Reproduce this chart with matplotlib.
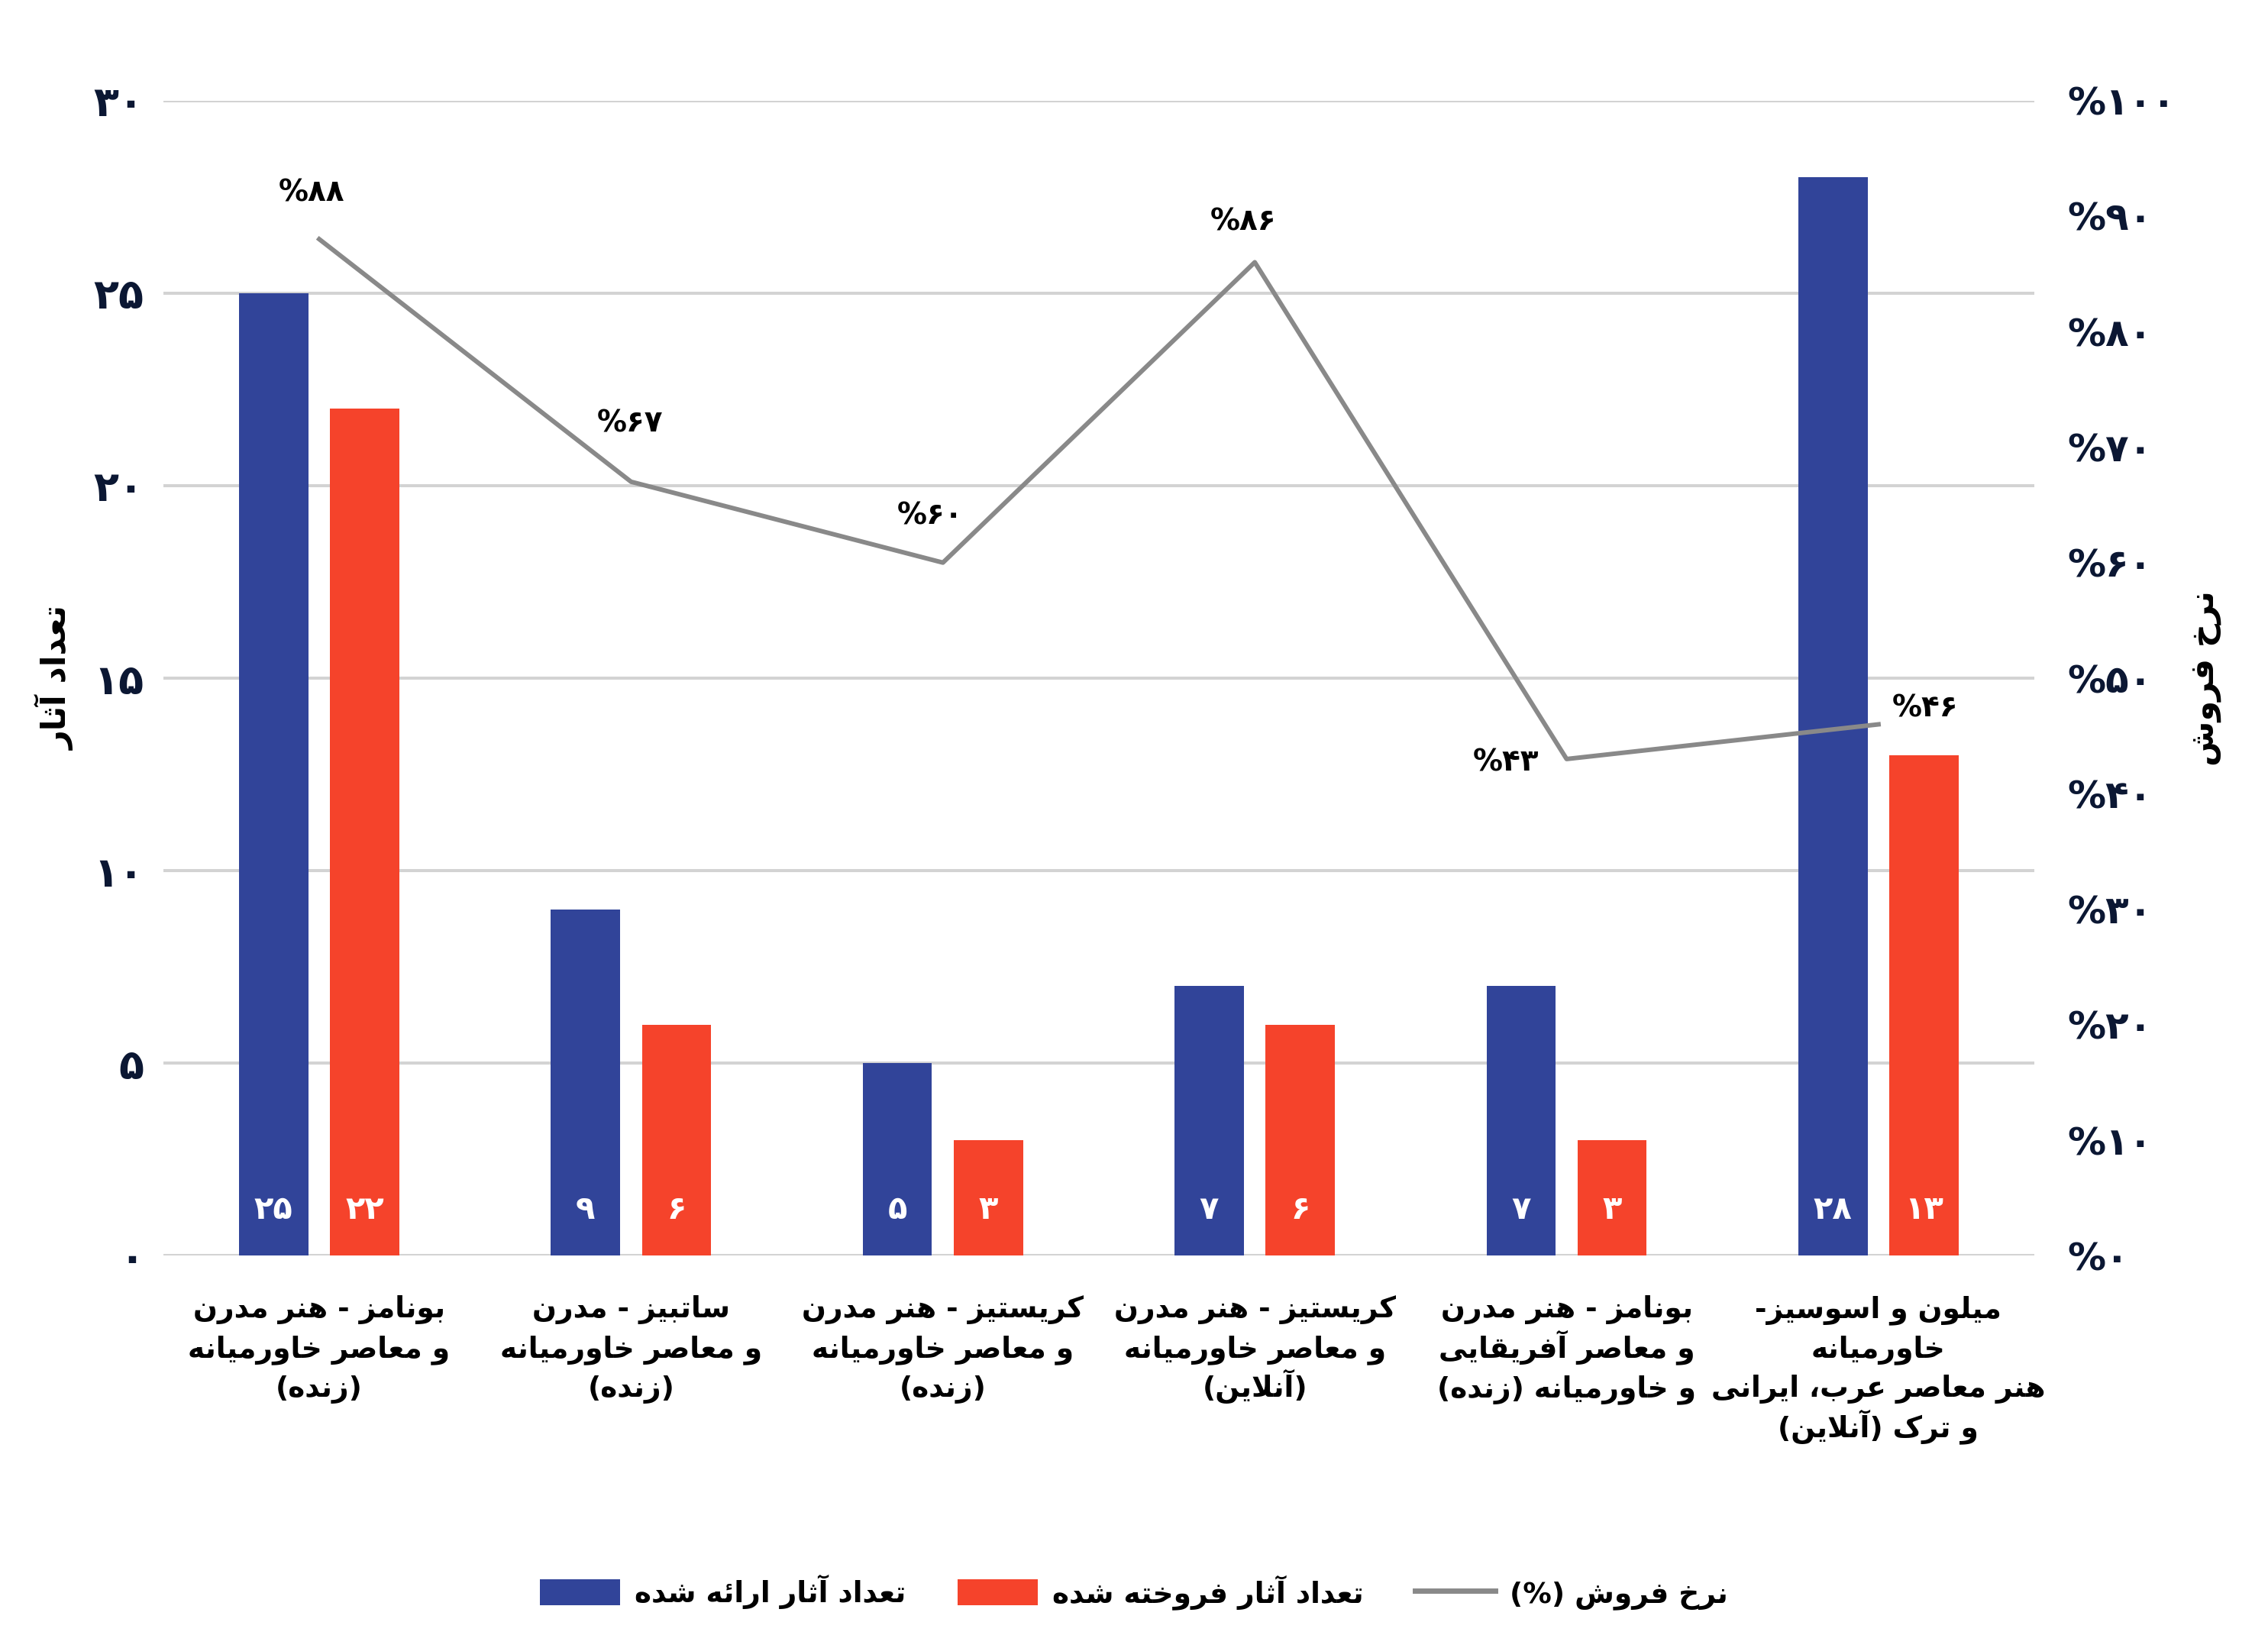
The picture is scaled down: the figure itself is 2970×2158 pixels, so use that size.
import numpy as np
import matplotlib
matplotlib.use("Agg")
import matplotlib.pyplot as plt
from matplotlib.patches import Patch
from matplotlib.lines import Line2D

# ---------------- data ----------------
categories = [
    "بونامز - هنر مدرن\nو معاصر خاورمیانه\n(زنده)",
    "ساتبیز - مدرن\nو معاصر خاورمیانه\n(زنده)",
    "کریستیز - هنر مدرن\nو معاصر خاورمیانه\n(زنده)",
    "کریستیز - هنر مدرن\nو معاصر خاورمیانه\n(آنلاین)",
    "بونامز - هنر مدرن\nو معاصر آفریقایی\nو خاورمیانه (زنده)",
    "میلون و اسوسیز-\nخاورمیانه\nهنر معاصر عرب، ایرانی\nو ترک (آنلاین)",
]
offered = [25, 9, 5, 7, 7, 28]
sold = [22, 6, 3, 6, 3, 13]
sale_rate = [88, 67, 60, 86, 43, 46]
left_ticks = [0, 5, 10, 15, 20, 25, 30]
right_ticks = [0, 10, 20, 30, 40, 50, 60, 70, 80, 90, 100]
legend_labels = ["تعداد آثار ارائه شده", "تعداد آثار فروخته شده", "نرخ فروش (%)"]
ylabel_left = "تعداد آثار"
ylabel_right = "نرخ فروش"

# ---------------- minimal Persian shaping ----------------
FORMS = {
    '\u0622': ('\uFE81', '\uFE82', None, None),
    '\u0626': ('\uFE89', '\uFE8A', '\uFE8B', '\uFE8C'),
    '\u0627': ('\uFE8D', '\uFE8E', None, None),
    '\u0628': ('\uFE8F', '\uFE90', '\uFE91', '\uFE92'),
    '\u062A': ('\uFE95', '\uFE96', '\uFE97', '\uFE98'),
    '\u062B': ('\uFE99', '\uFE9A', '\uFE9B', '\uFE9C'),
    '\u062E': ('\uFEA5', '\uFEA6', '\uFEA7', '\uFEA8'),
    '\u062F': ('\uFEA9', '\uFEAA', None, None),
    '\u0631': ('\uFEAD', '\uFEAE', None, None),
    '\u0632': ('\uFEAF', '\uFEB0', None, None),
    '\u0633': ('\uFEB1', '\uFEB2', '\uFEB3', '\uFEB4'),
    '\u0634': ('\uFEB5', '\uFEB6', '\uFEB7', '\uFEB8'),
    '\u0635': ('\uFEB9', '\uFEBA', '\uFEBB', '\uFEBC'),
    '\u0639': ('\uFEC9', '\uFECA', '\uFECB', '\uFECC'),
    '\u0641': ('\uFED1', '\uFED2', '\uFED3', '\uFED4'),
    '\u0642': ('\uFED5', '\uFED6', '\uFED7', '\uFED8'),
    '\u0644': ('\uFEDD', '\uFEDE', '\uFEDF', '\uFEE0'),
    '\u0645': ('\uFEE1', '\uFEE2', '\uFEE3', '\uFEE4'),
    '\u0646': ('\uFEE5', '\uFEE6', '\uFEE7', '\uFEE8'),
    '\u0647': ('\uFEE9', '\uFEEA', '\uFEEB', '\uFEEC'),
    '\u0648': ('\uFEED', '\uFEEE', None, None),
    '\u06A9': ('\uFB8E', '\uFB8F', '\uFB90', '\uFB91'),
    '\u06CC': ('\uFBFC', '\uFBFD', '\uFBFE', '\uFBFF'),
}
LAM_ALEF = {'\u0627': ('\uFEFB', '\uFEFC'), '\u0622': ('\uFEF5', '\uFEF6')}
MIRROR = {'(': ')', ')': '('}


def shape_line(s):
    out = []
    n = len(s)
    i = 0
    prev_join = False
    while i < n:
        c = s[i]
        if c not in FORMS:
            out.append(c)
            prev_join = False
            i += 1
            continue
        if c == '\u0644' and i + 1 < n and s[i + 1] in LAM_ALEF:
            iso, fin = LAM_ALEF[s[i + 1]]
            out.append(fin if prev_join else iso)
            prev_join = False
            i += 2
            continue
        f = FORMS[c]
        nxt = s[i + 1] if i + 1 < n else None
        can_next = f[2] is not None and nxt in FORMS
        if prev_join and can_next:
            g = f[3]
        elif prev_join:
            g = f[1]
        elif can_next:
            g = f[2]
        else:
            g = f[0]
        out.append(g)
        prev_join = can_next
        i += 1
    vis = ''.join(MIRROR.get(ch, ch) for ch in reversed(out))
    return vis


def fa(s):
    return '\n'.join(shape_line(l) for l in s.split('\n'))


PD = str.maketrans('0123456789', '۰۱۲۳۴۵۶۷۸۹')


def pdig(v):
    return str(v).translate(PD)


# ---------------- style ----------------
plt.rcParams['font.family'] = ['DejaVu Sans']
plt.rcParams['font.weight'] = 'bold'

BLUE = '#314499'
RED = '#F5432B'
GRAY = '#898989'
GRID = '#d3d3d3'
TICK = '#0b1733'

fig = plt.figure(figsize=(29.7, 21.58), dpi=100)
ax = fig.add_axes([0.072, 0.238, 0.825, 0.701])
x = np.arange(len(categories))
w = 0.222
off = 0.146

ax.bar(x - off, offered, w, color=BLUE, zorder=2)
ax.bar(x + off, sold, w, color=RED, zorder=2)
ax.set_xlim(-0.5, len(categories) - 0.5)
ax.set_ylim(0, 30)
ax.set_yticks(left_ticks)
ax.set_yticklabels([pdig(t) for t in left_ticks], fontsize=39, color=TICK, fontweight='bold')
ax.yaxis.grid(True, color=GRID, lw=2.9, zorder=0)
ax.set_axisbelow(True)
ax.tick_params(axis='y', length=0, pad=18)
ax.set_xticks(x)
ax.set_xticklabels([''] * len(categories))
ax.tick_params(axis='x', length=0)
for s in ax.spines.values():
    s.set_visible(False)

# category labels: one text per line, evenly spaced baselines
for xi, cat in zip(x, categories):
    for j, line in enumerate(cat.split('\n')):
        ax.annotate(shape_line(line), xy=(xi, 0), xycoords=('data', 'axes fraction'),
                    xytext=(0, -58 - j * 37.5), textcoords='offset points',
                    ha='center', va='baseline', fontsize=27, fontweight='bold',
                    color='black', annotation_clip=False)

for xi, v in zip(x, offered):
    ax.text(xi - off, 1.19, pdig(v), ha='center', va='center', color='white',
            fontsize=30, fontweight='bold', zorder=3)
for xi, v in zip(x, sold):
    ax.text(xi + off, 1.19, pdig(v), ha='center', va='center', color='white',
            fontsize=30, fontweight='bold', zorder=3)

ax.set_ylabel(fa(ylabel_left), fontsize=31, fontweight='bold', labelpad=18)

ax2 = ax.twinx()
ax2.set_ylim(0, 100)
ax2.set_yticks(right_ticks)
ax2.set_yticklabels(['%' + pdig(t) for t in right_ticks], fontsize=36, color=TICK,
                    fontweight='bold')
ax2.tick_params(axis='y', length=0, pad=31)
for s in ax2.spines.values():
    s.set_visible(False)
ax2.plot(x, sale_rate, color=GRAY, lw=4.3, zorder=4)
ax2.set_ylabel(fa(ylabel_right), fontsize=31, fontweight='bold', rotation=90, labelpad=13)

offsets = [(-7, 44), (-1, 55), (-12, 44), (-11, 38), (-57, -3), (44, 15)]
for xi, r, (dx, dy) in zip(x, sale_rate, offsets):
    ax2.annotate('%' + pdig(r), (xi, r), xytext=(dx, dy), textcoords='offset points',
                 ha='center', va='center', fontsize=28, fontweight='bold', color='black')

handles = [Patch(facecolor=BLUE), Patch(facecolor=RED), Line2D([], [], color=GRAY, lw=5)]
fig.legend(handles, [fa(l) for l in legend_labels], loc='center', bbox_to_anchor=(0.5, 0.034),
           ncol=3, frameon=False, fontsize=27, handlelength=2.8, handleheight=1.0,
           handletextpad=0.5, columnspacing=1.8)

fig.savefig('out.png', dpi=100, facecolor='white')
